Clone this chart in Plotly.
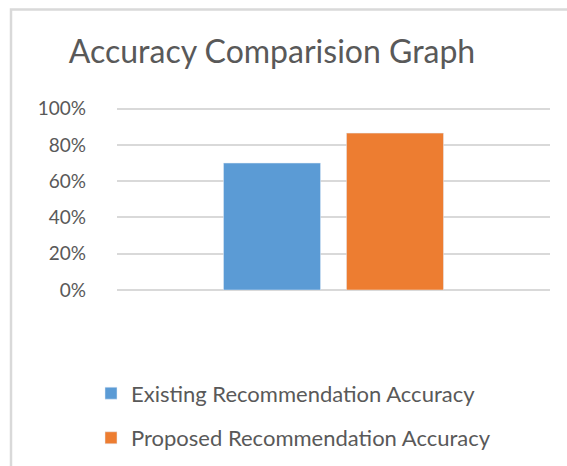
import plotly.graph_objects as go

categories = [""]
series_names = ["Existing Recommendation Accuracy", "Proposed Recommendation Accuracy"]
existing = [0.70]
proposed = [0.865]
tick_vals = [0, 0.2, 0.4, 0.6, 0.8, 1.0]
tick_text = ["0%", "20%", "40%", "60%", "80%", "100%"]

FONT = "Lato, DejaVu Sans Condensed, sans-serif"
TXT = "#595959"

fig = go.Figure()
fig.add_trace(go.Bar(x=categories, y=existing, name=series_names[0],
                     marker_color="#5b9bd5", legendgroup="a"))
fig.add_trace(go.Bar(x=categories, y=proposed, name=series_names[1],
                     marker_color="#ed7d31", legendgroup="b"))

W, H = 567, 466
YTOP = 1.02
unit = 181.2
L, R = 117, 17
B = 466 - 289.7
T = 289.7 - YTOP * unit
pw = W - L - R
ph = H - T - B

def px(x):
    return (x - L) / pw

def py(y):
    return (H - B - y) / ph

fig.update_layout(
    width=W, height=H,
    margin=dict(l=L, r=R, t=T, b=B, pad=0, autoexpand=False),
    paper_bgcolor="white", plot_bgcolor="white",
    barmode="group", bargap=0.432, bargroupgap=0.211,
    font=dict(family=FONT, color=TXT),
    title=dict(text="Accuracy Comparision Graph", x=272 / W, xref="container",
               xanchor="center", y=1 - 52 / H, yref="container", yanchor="middle",
               font=dict(family=FONT, size=32, color=TXT)),
    xaxis=dict(showticklabels=False, showgrid=False, zeroline=False,
               showline=False, ticks="", range=[-0.5, 0.5]),
    yaxis=dict(range=[0, YTOP], tickvals=tick_vals, ticktext=tick_text,
               showgrid=True, gridcolor="#d9d9d9", gridwidth=1.5,
               zeroline=True, zerolinecolor="#d9d9d9", zerolinewidth=2,
               showline=False, ticks="", ticklabelstandoff=30,
               tickfont=dict(family=FONT, size=19, color=TXT)),
    legend=dict(orientation="v", x=px(91), xanchor="left", y=py(372), yanchor="top",
                traceorder="grouped", tracegroupgap=13,
                font=dict(family=FONT, size=22, color=TXT),
                bgcolor="rgba(0,0,0,0)"),
    showlegend=True,
    shapes=[dict(type="rect", xref="paper", yref="paper",
                 x0=px(11), x1=px(600), y0=py(9.5), y1=py(500),
                 line=dict(color="#d9d9d9", width=2.5), fillcolor="rgba(0,0,0,0)",
                 layer="below")],
)

fig.write_html("out.html", config={"displayModeBar": False},
               post_script="document.body.style.margin='0';document.body.style.padding='0';")
